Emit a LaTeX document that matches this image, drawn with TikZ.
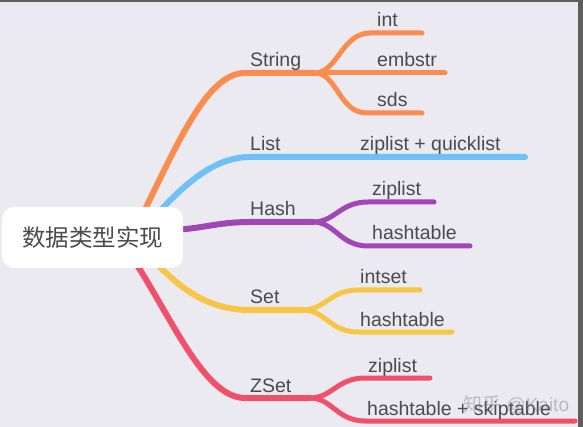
\documentclass[tikz,border=0pt]{standalone}
\usepackage{fontspec}
\setmainfont{Liberation Sans}
\newfontfamily\cjk{Noto Sans CJK SC}
\definecolor{bgc}{HTML}{EBEAF0}
\definecolor{edgec}{HTML}{5E5E5E}
\definecolor{txt}{HTML}{4A4A4F}
\definecolor{corange}{HTML}{FA8C50}
\definecolor{cblue}{HTML}{6EC0F7}
\definecolor{cpurple}{HTML}{A046B6}
\definecolor{cyellow}{HTML}{F8C646}
\definecolor{cred}{HTML}{F0506A}
\begin{document}
\begin{tikzpicture}[x=1pt,y=-1pt,
  branch/.style={line width=6pt,line cap=round},
  leafline/.style={line width=5pt,line cap=round},
  lbl/.style={anchor=base west,inner sep=0pt,text=txt,font=\fontsize{19.5}{22}\selectfont},
  rootbox/.style={fill=white,rounded corners=12pt,minimum width=181pt,minimum height=61pt,inner sep=0pt,text=txt,font=\cjk\fontsize{23.5}{26}\selectfont},
  wm/.style={anchor=base west,inner sep=0pt,text=gray,opacity=0.45,font=\fontsize{19}{22}\selectfont},
]
\fill[bgc] (0,0) rectangle (583,427);
\useasboundingbox (0,0) rectangle (583,427);

% coordinates
\coordinate (so) at (130,240);
\coordinate (sa) at (245,73);
\coordinate (sj) at (315,73);
\coordinate (s1a) at (370,33);  \coordinate (s1b) at (422,33);
\coordinate (s2b) at (445,73);
\coordinate (s3a) at (367,113); \coordinate (s3b) at (422,113);

\coordinate (bo) at (135,238);
\coordinate (ba) at (250,157);
\coordinate (bb) at (525,157);

\coordinate (ho) at (165,230);
\coordinate (ha) at (250,222);
\coordinate (hj) at (313,222);
\coordinate (h1a) at (368,202); \coordinate (h1b) at (434,202);
\coordinate (h2a) at (368,246); \coordinate (h2b) at (470,246);

\coordinate (yo) at (135,240);
\coordinate (ya) at (250,310);
\coordinate (yj) at (303,310);
\coordinate (y1a) at (358,290); \coordinate (y1b) at (420,290);
\coordinate (y2a) at (358,332); \coordinate (y2b) at (452,332);

\coordinate (ro) at (120,240);
\coordinate (ra) at (245,398);
\coordinate (rj) at (310,398);
\coordinate (r1a) at (365,378); \coordinate (r1b) at (430,378);
\coordinate (r2a) at (365,421); \coordinate (r2b) at (575,421);

% String
\draw[branch,corange] (so) .. controls (175,150) and (205,73) .. (sa) -- (sj);
\draw[leafline,corange] (sj) .. controls +(22,0) and +(-28,0) .. (s1a) -- (s1b);
\draw[leafline,corange] (sj) -- (s2b);
\draw[leafline,corange] (sj) .. controls +(22,0) and +(-28,0) .. (s3a) -- (s3b);
% List
\draw[branch,cblue] (bo) .. controls (170,200) and (205,157) .. (ba) -- (bb);
% Hash
\draw[branch,cpurple] (ho) .. controls (200,230) and (215,222) .. (ha) -- (hj);
\draw[leafline,cpurple] (hj) .. controls +(22,0) and +(-28,0) .. (h1a) -- (h1b);
\draw[leafline,cpurple] (hj) .. controls +(22,0) and +(-28,0) .. (h2a) -- (h2b);
% Set
\draw[branch,cyellow] (yo) .. controls (170,280) and (200,310) .. (ya) -- (yj);
\draw[leafline,cyellow] (yj) .. controls +(22,0) and +(-28,0) .. (y1a) -- (y1b);
\draw[leafline,cyellow] (yj) .. controls +(22,0) and +(-28,0) .. (y2a) -- (y2b);
% ZSet
\draw[branch,cred] (ro) .. controls (165,300) and (200,398) .. (ra) -- (rj);
\draw[leafline,cred] (rj) .. controls +(22,0) and +(-28,0) .. (r1a) -- (r1b);
\draw[leafline,cred] (rj) .. controls +(22,0) and +(-28,0) .. (r2a) -- (r2b);

% root
\node[rootbox] (root) at (92.5,237.5) {数据类型实现};

% labels
\node[lbl] (lstring) at (250,67) {String};
\node[lbl] (lint) at (377,27) {int};
\node[lbl] (lembstr) at (377,67) {embstr};
\node[lbl] (lsds) at (377,107) {sds};
\node[lbl] (llist) at (250,151) {List};
\node[lbl] (lzq) at (360,151) {ziplist + quicklist};
\node[lbl] (lhash) at (250,216) {Hash};
\node[lbl] (lhz) at (372,196) {ziplist};
\node[lbl] (lhh) at (372,240) {hashtable};
\node[lbl] (lset) at (250,304) {Set};
\node[lbl] (lsi) at (360,284) {intset};
\node[lbl] (lsh) at (360,326) {hashtable};
\node[lbl] (lzset) at (250,392) {ZSet};
\node[lbl] (lzz) at (368,372) {ziplist};
\node[lbl] (lzh) at (367,415) {hashtable + skiptable};

% watermark
\node[wm] (wmark) at (463,411) {{\cjk 知乎} @Kaito};

% frame edges
\fill[edgec] (0,0) rectangle (583,2);
\fill[edgec] (578,0) rectangle (583,427);
\end{tikzpicture}
\end{document}
